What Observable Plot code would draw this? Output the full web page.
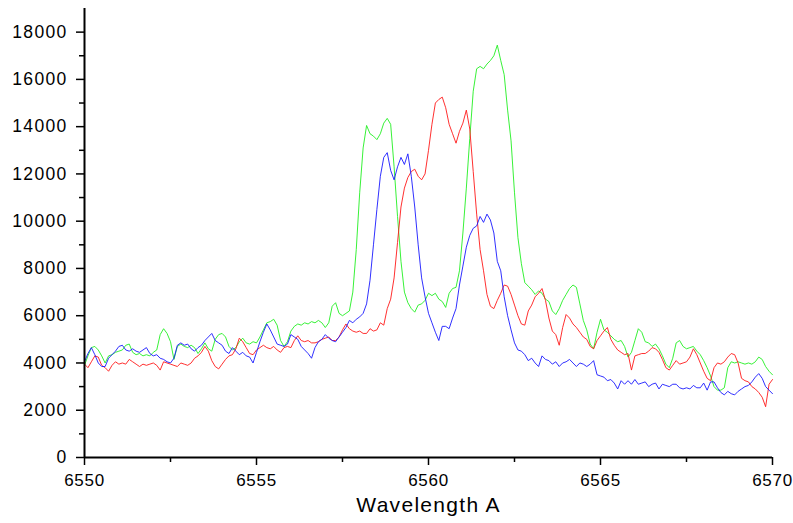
<!DOCTYPE html>
<html>
<head>
<meta charset="utf-8">
<script src="https://cdn.jsdelivr.net/npm/d3@7"></script>
<script src="https://cdn.jsdelivr.net/npm/@observablehq/plot@0.6"></script>
<style>
  html, body { margin: 0; padding: 0; background: #fff; }
  #chart svg text { letter-spacing: 1.3px; }
  #chart svg g[aria-label="x-axis tick label"] text { letter-spacing: 0.7px; }
  #chart svg g[aria-label="xlabel"] text { letter-spacing: 2.2px; }
</style>
</head>
<body>
<div id="chart"></div>
<script>
// Wavelength grid: 6550.0 .. 6570.0 Å in 0.1 Å steps
const wlStart = 6550;
const wlStep = 0.1;

const greenFlux = [
3900,4300,4650,4700,4550,4300,4000,4300,4350,4450,
4500,4550,4750,4800,4450,4350,4400,4300,4350,4300,
4450,4550,5200,5450,5250,4900,4150,4700,4800,4700,
4650,4750,4650,4400,4600,4850,4600,4500,5000,5200,
5250,5100,4700,4550,4650,4900,5050,4850,4800,4900,
4850,5100,5400,5700,5750,5850,5600,4950,4700,4900,
5350,5550,5650,5600,5700,5650,5750,5700,5800,5700,
5500,5700,6400,6550,6100,6000,6100,6200,7000,8800,
11200,13100,14050,13700,13600,13450,13700,14150,14350,14100,
12300,10200,8300,7000,6550,6300,6150,6450,6500,6650,
6950,6850,6950,6700,6600,6350,6950,7150,7200,7900,
9500,11400,13500,15500,16450,16550,16450,16650,16800,17000,
17450,16800,16200,14700,13400,11200,9300,8200,7400,7250,
7100,6900,7050,6950,6700,6600,6200,6050,6300,6650,
6900,7150,7300,7200,6500,5800,5400,4800,4600,5300,
5850,5400,5300,5150,5000,4900,4950,4700,4250,4450,
4950,5450,5300,4900,4850,4700,4800,4600,4300,3950,
3800,4200,4850,4950,4700,4600,4650,4700,4500,4350,
4100,3800,3450,3000,2850,2850,2950,3800,4050,4000,
4050,4000,3950,4000,3950,4050,4250,4150,3850,3650,
3500
];

const redFlux = [
3950,3800,4050,4300,4250,3900,3800,3650,3900,4050,
3950,4000,3950,4150,4050,3950,3850,3950,3900,3950,
4000,3900,3700,4050,4000,3950,3900,3850,4000,3950,
3900,4000,4200,4300,4450,4700,4500,4100,3850,3750,
3950,4150,4300,4350,4600,5050,4900,4650,4400,4350,
4550,4650,4750,4650,4600,4700,4550,4450,4650,4700,
4650,4950,5150,4950,4900,4950,4850,4850,4900,5000,
5050,5100,4950,4950,5100,5400,5650,5450,5350,5300,
5350,5250,5250,5450,5350,5400,5700,5600,6300,6700,
7600,9100,10600,11400,11850,12100,12200,11900,11750,12000,
13000,14100,15000,15150,15250,14800,14100,13700,13300,13800,
14150,14700,13900,12100,10300,8800,7900,6900,6400,6300,
6650,6950,7300,7250,6900,6450,6000,5650,5600,6200,
6450,6800,6950,7150,6650,5900,5350,5200,4750,5500,
6050,5900,5650,5500,5300,5100,5000,4700,4600,4950,
5150,5350,5500,5000,4750,4550,4450,4350,4400,3700,
4300,4350,4400,4400,4500,4650,4600,4450,4150,3800,
3700,3900,4100,3950,4000,4050,4250,4600,4350,4000,
3650,3350,3250,3800,4000,3950,4050,4250,4400,4350,
4000,3350,3250,3200,3000,2900,2750,2550,2150,3100,
3300
];

const blueFlux = [
4050,4400,4650,4350,4000,3850,3850,4200,4350,4500,
4700,4750,4550,4500,4600,4500,4450,4550,4650,4400,
4300,4350,4200,4150,4050,4000,4200,4750,4850,4750,
4800,4600,4500,4650,4750,4950,5100,5250,4950,4850,
4750,4500,4400,4650,4500,4350,4450,4300,4250,4000,
4450,4900,5300,5650,5400,5100,4800,4750,4700,4800,
5200,5100,5000,4700,4550,4400,4200,4650,4900,5000,
5200,5050,4950,4900,5100,5300,5500,5800,5700,5850,
5950,6100,6500,7500,9000,10500,11900,12700,12900,12150,
11750,12300,12700,12400,12850,11900,10600,9000,7600,6800,
6100,5700,5300,4950,5550,5550,5450,5900,6300,7300,
8100,8900,9400,9700,9800,10200,9950,10300,10050,9500,
8300,7900,6800,6000,5400,4850,4550,4500,4350,4100,
4200,4000,3850,4300,4150,4100,3950,4050,3850,4000,
4050,4150,4000,3850,4000,3950,3850,3950,4100,3500,
3450,3400,3250,3300,3150,2900,3250,3100,3250,3100,
3300,3100,3150,3200,3000,3100,3150,2900,3100,3050,
3000,3100,3100,2950,2900,2950,2900,3050,2950,2950,
3150,2850,3200,3200,2950,2750,2650,2800,2700,2650,
2800,2900,3000,3050,3200,3400,3550,3350,3000,2850,
2700
];

const yMajorTicks = [0, 2000, 4000, 6000, 8000, 10000, 12000, 14000, 16000, 18000];
const yMinorTicks = [1000, 3000, 5000, 7000, 9000, 11000, 13000, 15000, 17000];
const xMajorTicks = [6550, 6555, 6560, 6565, 6570];
const xMinorTicks = [6552.5, 6557.5, 6562.5, 6567.5];
const xLabel = "Wavelength A";

const seriesColors = {green: "#22f022", red: "#ff1a1a", blue: "#1a1aff"};

function toRows(values, name) {
  return values.map((v, i) => ({wl: +(wlStart + i * wlStep).toFixed(1), flux: v, series: name}));
}

const rowsGreen = toRows(greenFlux, "green");
const rowsRed = toRows(redFlux, "red");
const rowsBlue = toRows(blueFlux, "blue");

const chart = Plot.plot({
  width: 793,
  height: 523,
  marginLeft: 84,
  marginRight: 21,
  marginTop: 8,
  marginBottom: 66,
  style: {fontFamily: "'Liberation Sans', Arial, sans-serif", color: "#000", background: "#fff"},
  x: {domain: [6550, 6570]},
  y: {domain: [0, 19000]},
  marks: [
    Plot.line(rowsGreen, {x: "wl", y: "flux", stroke: seriesColors.green, strokeWidth: 1, strokeOpacity: 0.9}),
    Plot.line(rowsRed, {x: "wl", y: "flux", stroke: seriesColors.red, strokeWidth: 1, strokeOpacity: 0.9}),
    Plot.line(rowsBlue, {x: "wl", y: "flux", stroke: seriesColors.blue, strokeWidth: 1, strokeOpacity: 0.9}),
    Plot.axisY({ticks: yMinorTicks, tickSize: 5, tickFormat: () => "", strokeWidth: 1.5, label: null}),
    Plot.axisY({ticks: yMajorTicks, tickSize: 8, tickPadding: 9, tickFormat: d => String(d), fontSize: 17.5, strokeWidth: 1.5, label: null}),
    Plot.axisX({ticks: xMinorTicks, tickSize: 5, tickFormat: () => "", strokeWidth: 1.5, label: null}),
    Plot.axisX({ticks: xMajorTicks, tickSize: 8, tickPadding: 8, tickFormat: d => String(d), fontSize: 17, strokeWidth: 1.5, label: null}),
    Plot.ruleX([6550], {strokeWidth: 2}),
    Plot.ruleY([0], {strokeWidth: 2}),
    Plot.text([xLabel], {frameAnchor: "bottom", dy: 54, fontSize: 21, fill: "#000", ariaLabel: "xlabel", text: d => d})
  ]
});

document.getElementById("chart").appendChild(chart);
</script>
</body>
</html>
